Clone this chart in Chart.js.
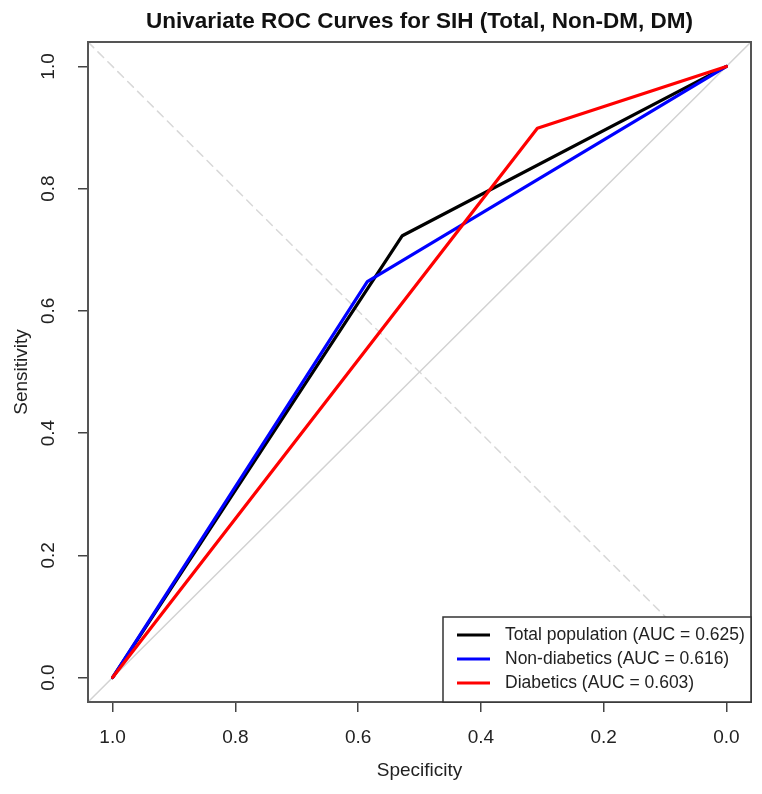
<!DOCTYPE html>
<html>
<head>
<meta charset="utf-8">
<script src="https://cdn.jsdelivr.net/npm/chart.js@4/dist/chart.umd.min.js"></script>
<style>
  html, body { margin: 0; padding: 0; background: #fff; }
  #wrap { width: 762px; height: 794px; }
</style>
</head>
<body>
<div id="wrap"><canvas id="rocChart" width="762" height="794"></canvas></div>
<script>
// ROC points (specificity, sensitivity)
const specTotal = [1, 0.528, 0];
const sensTotal = [0, 0.723, 1];
const specNonDM = [1, 0.585, 0];
const sensNonDM = [0, 0.648, 1];
const specDM = [1, 0.308, 0];
const sensDM = [0, 0.899, 1];

// reference lines, drawn edge to edge of the box
const chanceSpec = [1.04, -0.04];
const chanceSens = [-0.04, 1.04];
const dashSpec = [1.04, -0.04];
const dashSens = [1.04, -0.04];

const tickValues = [0, 0.2, 0.4, 0.6, 0.8, 1.0];
const legendLabels = [
  'Total population (AUC = 0.625)',
  'Non-diabetics (AUC = 0.616)',
  'Diabetics (AUC = 0.603)'
];
const legendColors = ['#000000', '#0000ff', '#ff0000'];

const titleText = 'Univariate ROC Curves for SIH (Total, Non-DM, DM)';
const fontFam = '"Liberation Sans", Arial, sans-serif';

function toPoints(xs, ys) {
  return xs.map((x, i) => ({ x: x, y: ys[i] }));
}

function setTicks(scale) {
  scale.ticks = tickValues.map(v => ({ value: v }));
}

// box round the plot, title and the R-style legend
const boxPlugin = {
  id: 'rBox',
  afterDraw(chart) {
    const ctx = chart.ctx;
    const a = chart.chartArea;
    ctx.save();
    ctx.strokeStyle = '#555';
    ctx.lineWidth = 2;
    ctx.strokeRect(a.left, a.top, a.right - a.left, a.bottom - a.top);

    // title, centred over the plot box
    ctx.fillStyle = '#111';
    ctx.font = 'bold 22.5px ' + fontFam;
    ctx.textAlign = 'center';
    ctx.textBaseline = 'middle';
    ctx.fillText(titleText, (a.left + a.right) / 2, 22);

    // legend at bottom right
    const lw = 308, rowH = 24;
    const lx = a.right - lw;
    const lh = 85;
    const ly = a.bottom - lh;
    ctx.fillStyle = '#fff';
    ctx.fillRect(lx, ly, lw, lh);
    ctx.strokeStyle = '#333';
    ctx.lineWidth = 1.5;
    ctx.strokeRect(lx, ly, lw, lh);
    ctx.font = '17.5px ' + fontFam;
    ctx.textAlign = 'left';
    legendLabels.forEach((lab, i) => {
      const yy = ly + 18 + i * rowH;
      ctx.strokeStyle = legendColors[i];
      ctx.lineWidth = 3;
      ctx.beginPath();
      ctx.moveTo(lx + 14, yy);
      ctx.lineTo(lx + 47, yy);
      ctx.stroke();
      ctx.fillStyle = '#222';
      ctx.fillText(lab, lx + 62, yy);
    });
    ctx.restore();
  }
};

let chart = new Chart(document.getElementById('rocChart').getContext('2d'), {
  type: 'scatter',
  data: {
    datasets: [
      {
        label: legendLabels[2],
        data: toPoints(specDM, sensDM),
        borderColor: '#ff0000',
        borderWidth: 3.2,
        order: 0
      },
      {
        label: legendLabels[1],
        data: toPoints(specNonDM, sensNonDM),
        borderColor: '#0000ff',
        borderWidth: 3.2,
        order: 1
      },
      {
        label: legendLabels[0],
        data: toPoints(specTotal, sensTotal),
        borderColor: '#000000',
        borderWidth: 3.2,
        order: 2
      },
      {
        label: 'chance',
        data: toPoints(chanceSpec, chanceSens),
        borderColor: '#d2d2d2',
        borderWidth: 1.5,
        order: 5
      },
      {
        label: 'diag',
        data: toPoints(dashSpec, dashSens),
        borderColor: '#d8d8d8',
        borderWidth: 1.5,
        borderDash: [8, 6],
        order: 6
      }
    ]
  },
  options: {
    responsive: false,
    animation: false,
    showLine: true,
    elements: {
      point: { radius: 0, hoverRadius: 0 },
      line: { tension: 0, fill: false, borderCapStyle: 'round', borderJoinStyle: 'round' }
    },
    layout: { padding: { top: 42, right: 11, left: 0, bottom: 0 } },
    plugins: {
      legend: { display: false },
      tooltip: { enabled: false },
      title: { display: false }
    },
    scales: {
      x: {
        type: 'linear',
        reverse: true,
        min: -0.04,
        max: 1.04,
        afterBuildTicks: setTicks,
        afterFit: (s) => { s.height = 92; },
        grid: {
          drawOnChartArea: false,
          drawTicks: true,
          tickLength: 10,
          color: '#444',
          lineWidth: 1.5
        },
        border: { display: false },
        ticks: {
          padding: 14,
          color: '#222',
          font: { family: fontFam, size: 19 },
          maxRotation: 0,
          autoSkip: false,
          callback: (v) => v.toFixed(1)
        },
        title: {
          display: true,
          text: 'Specificity',
          color: '#222',
          font: { family: fontFam, size: 19 },
          padding: { top: 0, bottom: 12 }
        }
      },
      y: {
        type: 'linear',
        min: -0.04,
        max: 1.04,
        afterBuildTicks: setTicks,
        afterFit: (s) => { s.width = 88; },
        grid: {
          drawOnChartArea: false,
          drawTicks: true,
          tickLength: 10,
          color: '#444',
          lineWidth: 1.5
        },
        border: { display: false },
        ticks: {
          padding: 16,
          color: '#222',
          font: { family: fontFam, size: 19 },
          minRotation: 90,
          maxRotation: 90,
          crossAlign: 'center',
          autoSkip: false,
          callback: (v) => v.toFixed(1)
        },
        title: {
          display: true,
          text: 'Sensitivity',
          color: '#222',
          font: { family: fontFam, size: 19 },
          padding: { top: 10, bottom: 0 }
        }
      }
    }
  },
  plugins: [boxPlugin]
});
</script>
</body>
</html>
